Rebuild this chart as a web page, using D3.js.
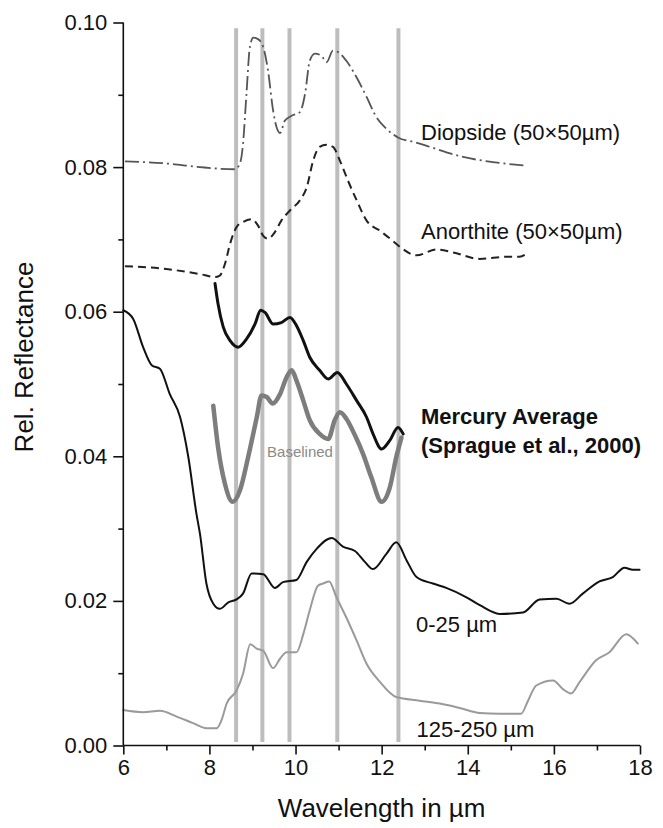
<!DOCTYPE html>
<html>
<head>
<meta charset="utf-8">
<script src="https://cdn.jsdelivr.net/npm/d3@7/dist/d3.min.js"></script>
<style>
  html, body { margin: 0; padding: 0; background: #fff; }
  svg text { font-family: "Liberation Sans", Arial, Helvetica, sans-serif; }
</style>
</head>
<body>
<div id="chart"></div>
<script>
// ---------------- DATA ----------------
const xTicks = [6, 8, 10, 12, 14, 16, 18];
const yTicks = [0.00, 0.02, 0.04, 0.06, 0.08, 0.10];
const bandPositions = [8.62, 9.23, 9.86, 10.97, 12.39];

const diopsideWl   = [6.04, 7.0, 7.78, 8.59, 8.71, 8.78, 8.86, 8.94, 9.02, 9.13, 9.25, 9.36, 9.48, 9.56, 9.64, 9.75, 9.91, 10.1, 10.22, 10.33, 10.45, 10.6, 10.72, 10.87, 10.99, 11.18, 11.42, 11.65, 11.88, 12.11, 12.38, 12.8, 13.12, 13.89, 14.58, 15.36];
const diopsideRefl = [0.0808, 0.0805, 0.0800, 0.0797, 0.0805, 0.0832, 0.0901, 0.0966, 0.0979, 0.0977, 0.0966, 0.0934, 0.0878, 0.0855, 0.0847, 0.0864, 0.0871, 0.0876, 0.0901, 0.0947, 0.0957, 0.0954, 0.0945, 0.0961, 0.0959, 0.0947, 0.0924, 0.0897, 0.0869, 0.0853, 0.0841, 0.0834, 0.0828, 0.0814, 0.0807, 0.0802];

const anorthiteWl   = [6.04, 7.0, 7.78, 8.13, 8.24, 8.36, 8.48, 8.63, 8.78, 8.98, 9.13, 9.25, 9.36, 9.52, 9.67, 9.87, 10.1, 10.26, 10.41, 10.56, 10.72, 10.87, 11.03, 11.22, 11.42, 11.65, 11.96, 12.26, 12.42, 12.81, 13.27, 13.66, 14.28, 14.9, 15.2, 15.4];
const anorthiteRefl = [0.0663, 0.0659, 0.0652, 0.0648, 0.0650, 0.0666, 0.0694, 0.0717, 0.0724, 0.0728, 0.0719, 0.0705, 0.0701, 0.0710, 0.0726, 0.0740, 0.0754, 0.0772, 0.0809, 0.0828, 0.0831, 0.0828, 0.0809, 0.0781, 0.0754, 0.0726, 0.0712, 0.0698, 0.0690, 0.0678, 0.0686, 0.0682, 0.0673, 0.0676, 0.0676, 0.0682];

const mercuryWl   = [8.13, 8.2, 8.32, 8.48, 8.67, 8.86, 9.06, 9.19, 9.29, 9.48, 9.67, 9.87, 10.02, 10.18, 10.33, 10.56, 10.76, 10.97, 11.18, 11.42, 11.65, 11.8, 12.0, 12.19, 12.38, 12.5];
const mercuryRefl = [0.0639, 0.0611, 0.0579, 0.0560, 0.0551, 0.0562, 0.0583, 0.0602, 0.0599, 0.0583, 0.0585, 0.0592, 0.0581, 0.0560, 0.0537, 0.0519, 0.0507, 0.0516, 0.0500, 0.0477, 0.0454, 0.0431, 0.0410, 0.0422, 0.0440, 0.0431];

const baselinedWl   = [8.09, 8.2, 8.36, 8.54, 8.71, 8.9, 9.1, 9.21, 9.33, 9.47, 9.64, 9.79, 9.91, 10.02, 10.18, 10.33, 10.56, 10.76, 10.91, 11.03, 11.18, 11.38, 11.57, 11.76, 12.0, 12.19, 12.34, 12.46];
const baselinedRefl = [0.0470, 0.0413, 0.0362, 0.0337, 0.0353, 0.0399, 0.0454, 0.0484, 0.0482, 0.0473, 0.0486, 0.0509, 0.0519, 0.0505, 0.0477, 0.0450, 0.0431, 0.0424, 0.0450, 0.0461, 0.0452, 0.0429, 0.0403, 0.0371, 0.0337, 0.0357, 0.0399, 0.0426];

const fineWl   = [6.0, 6.23, 6.46, 6.66, 6.85, 7.08, 7.32, 7.51, 7.7, 7.78, 7.93, 8.09, 8.24, 8.44, 8.63, 8.78, 8.98, 9.25, 9.52, 9.71, 10.02, 10.26, 10.49, 10.84, 11.1, 11.38, 11.61, 11.8, 12.11, 12.34, 12.58, 12.81, 13.19, 13.5, 13.97, 14.28, 14.74, 15.28, 15.67, 16.06, 16.36, 16.67, 17.06, 17.37, 17.64, 17.83, 17.99];
const fineRefl = [0.0602, 0.0590, 0.0551, 0.0526, 0.0521, 0.0486, 0.0454, 0.0399, 0.0320, 0.0293, 0.0224, 0.0196, 0.0189, 0.0198, 0.0202, 0.0210, 0.0238, 0.0237, 0.0218, 0.0226, 0.0229, 0.0254, 0.0272, 0.0287, 0.0275, 0.0269, 0.0254, 0.0244, 0.0265, 0.0281, 0.0256, 0.0233, 0.0224, 0.0218, 0.0205, 0.0194, 0.0182, 0.0184, 0.0202, 0.0203, 0.0196, 0.0210, 0.0227, 0.0233, 0.0246, 0.0243, 0.0243];

const coarseWl   = [6.0, 6.46, 6.85, 7.24, 7.62, 7.93, 8.17, 8.28, 8.4, 8.63, 8.78, 8.95, 9.1, 9.25, 9.48, 9.64, 9.79, 10.02, 10.18, 10.33, 10.52, 10.64, 10.78, 10.95, 11.18, 11.42, 11.65, 11.96, 12.34, 12.88, 13.35, 13.81, 14.28, 14.74, 15.24, 15.4, 15.59, 15.98, 16.21, 16.4, 16.6, 16.98, 17.29, 17.68, 17.95];
const coarseRefl = [0.0049, 0.0046, 0.0048, 0.0040, 0.0031, 0.0024, 0.0024, 0.0035, 0.0058, 0.0076, 0.0099, 0.0140, 0.0134, 0.0131, 0.0107, 0.0120, 0.0129, 0.0129, 0.0154, 0.0187, 0.0221, 0.0224, 0.0227, 0.0205, 0.0177, 0.0145, 0.0113, 0.0088, 0.0067, 0.0062, 0.0058, 0.0052, 0.0045, 0.0044, 0.0044, 0.0062, 0.0083, 0.0090, 0.0078, 0.0072, 0.0088, 0.0118, 0.0129, 0.0154, 0.0141];

// ---------------- CHART ----------------
const W = 663, H = 828;
const svg = d3.select("#chart").append("svg").attr("width", W).attr("height", H);

const x = d3.scaleLinear().domain([6, 18]).range([123.3, 640]);
const y = d3.scaleLinear().domain([0, 0.1]).range([745.5, 22.5]);

// grey vertical bands
svg.append("g").selectAll("line").data(bandPositions).join("line")
  .attr("x1", d => x(d)).attr("x2", d => x(d))
  .attr("y1", y(0.0992)).attr("y2", y(0.0005))
  .attr("stroke", "#bdbdbd").attr("stroke-width", 4);

function series(wl, refl) { return wl.map((w, i) => [w, refl[i]]); }
const line = d3.line().x(d => x(d[0])).y(d => y(d[1])).curve(d3.curveMonotoneX);

function draw(wl, refl, color, width, dash) {
  svg.append("path").datum(series(wl, refl))
    .attr("d", line).attr("fill", "none")
    .attr("stroke", color).attr("stroke-width", width)
    .attr("stroke-linejoin", "round").attr("stroke-linecap", "round")
    .attr("stroke-dasharray", dash || null);
}

draw(coarseWl, coarseRefl, "#9a9a9a", 2, null);
draw(fineWl, fineRefl, "#111", 2, null);
draw(baselinedWl, baselinedRefl, "#7d7d7d", 4.5, null);
draw(mercuryWl, mercuryRefl, "#111", 3, null);
svg.append("path").datum(series(anorthiteWl, anorthiteRefl))
  .attr("d", line).attr("fill", "none").attr("stroke", "#222")
  .attr("stroke-width", 2).attr("stroke-dasharray", "8,5");
svg.append("path").datum(series(diopsideWl, diopsideRefl))
  .attr("d", line).attr("fill", "none").attr("stroke", "#555")
  .attr("stroke-width", 1.8).attr("stroke-dasharray", "14,4,2,4");

// axes
const xAxis = svg.append("g").attr("transform", `translate(0,${y(0)})`)
  .call(d3.axisBottom(x).tickValues(xTicks).tickSize(9).tickPadding(5).tickFormat(d3.format("d")));
const xMinor = svg.append("g").attr("transform", `translate(0,${y(0)})`)
  .call(d3.axisBottom(x).tickValues([7, 9, 11, 13, 15, 17]).tickSize(5).tickFormat(""));
const yAxis = svg.append("g").attr("transform", `translate(${x(6)},0)`)
  .call(d3.axisLeft(y).tickValues(yTicks).tickSize(10).tickPadding(6).tickFormat(d3.format(".2f")));
const yMinor = svg.append("g").attr("transform", `translate(${x(6)},0)`)
  .call(d3.axisLeft(y).tickValues([0.01, 0.03, 0.05, 0.07, 0.09]).tickSize(5).tickFormat(""));

[xAxis, xMinor, yAxis, yMinor].forEach(g => {
  g.select(".domain").attr("stroke", "#111").attr("stroke-width", 1.6);
  g.selectAll(".tick line").attr("stroke", "#111").attr("stroke-width", 1.6);
  g.selectAll("text").attr("font-size", 22).attr("fill", "#111")
    .attr("font-family", "'Liberation Sans', Arial, sans-serif");
});
xMinor.select(".domain").remove();
yMinor.select(".domain").remove();
yAxis.select(".domain").attr("d", `M0,${y(0.1)}V${y(0)}`);
xAxis.select(".domain").attr("d", `M${x(6)},0H${x(18)}`);

// axis titles
svg.append("text").attr("x", (x(6) + x(18)) / 2).attr("y", 817)
  .attr("text-anchor", "middle").attr("font-size", 26).attr("fill", "#111")
  .text("Wavelength in µm");
svg.append("text").attr("transform", `translate(33,${357}) rotate(-90)`)
  .attr("text-anchor", "middle").attr("font-size", 26).attr("fill", "#111")
  .text("Rel. Reflectance");

// series labels
const labels = [
  { t: "Diopside (50×50µm)", x: 421, y: 140, w: "normal" },
  { t: "Anorthite (50×50µm)", x: 421, y: 239, w: "normal" },
  { t: "Mercury Average", x: 421, y: 424, w: "bold" },
  { t: "(Sprague et al., 2000)", x: 421, y: 453, w: "bold" },
  { t: "0-25 µm", x: 416, y: 632, w: "normal" },
  { t: "125-250 µm", x: 416.5, y: 737, w: "normal" }
];
svg.append("g").selectAll("text").data(labels).join("text")
  .attr("x", d => d.x).attr("y", d => d.y)
  .attr("font-size", 22).attr("font-weight", d => d.w).attr("fill", "#111")
  .text(d => d.t);

svg.append("text").attr("x", 300).attr("y", 457).attr("text-anchor", "middle")
  .attr("font-size", 15).attr("fill", "#8a8a8a").text("Baselined");
</script>
</body>
</html>
